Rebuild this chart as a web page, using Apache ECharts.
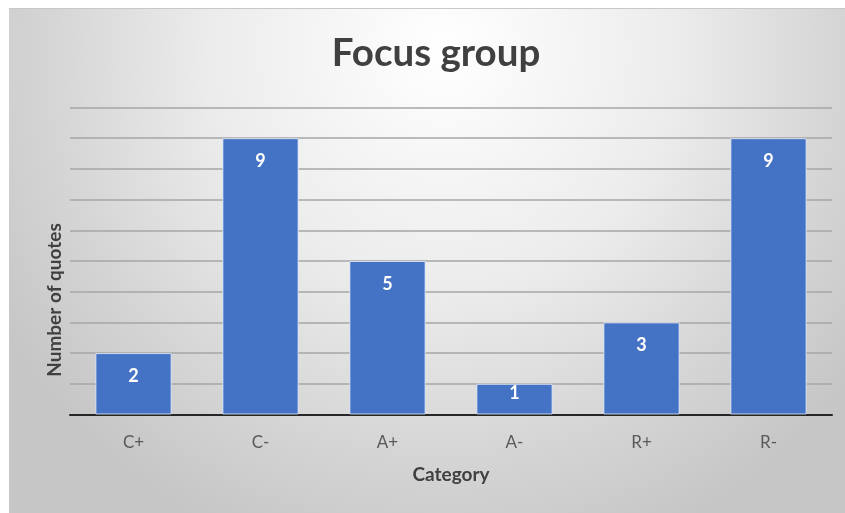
<!DOCTYPE html>
<html>
<head>
<meta charset="utf-8">
<script src="https://cdn.jsdelivr.net/npm/echarts@6/dist/echarts.min.js"></script>
<style>
  html, body { margin: 0; padding: 0; background: #ffffff; }
  #bg {
    position: absolute; left: 9px; top: 8px; width: 836px; height: 505px;
    border-top: 1px solid #c8c8c8;
    background: radial-gradient(ellipse 62% 105% at 52% 8%, #ffffff 0%, #ececec 45%, #d6d6d6 75%, #c6c6c6 100%);
  }
  #chart { position: absolute; left: 0; top: 0; width: 845px; height: 513px; }
</style>
</head>
<body>
<div id="bg"></div>
<div id="chart"></div>
<script>
const titleText = 'Focus group';
const xAxisTitle = 'Category';
const yAxisTitle = 'Number of quotes';
const categories = ['C+', 'C-', 'A+', 'A-', 'R+', 'R-'];
const quotes = [2, 9, 5, 1, 3, 9];

// short bars get their label pushed up to the bar's top edge
const barData = quotes.map(v => v < 2 ? { value: v, label: { distance: 0 } } : v);

const chart = echarts.init(document.getElementById('chart'), null, { renderer: 'canvas' });
chart.setOption({
  backgroundColor: 'transparent',
  animation: false,
  grid: { left: 70, right: 13, top: 107.5, bottom: 98.5, containLabel: false },
  xAxis: {
    type: 'category',
    data: categories,
    axisLine: { show: true, lineStyle: { color: '#262626', width: 2 } },
    axisTick: { show: false },
    axisLabel: { color: '#595959', fontFamily: 'Lato', fontSize: 17, margin: 20 },
    name: xAxisTitle,
    nameLocation: 'middle',
    nameGap: 51,
    nameTextStyle: { color: '#404040', fontFamily: 'Lato', fontWeight: 'bold', fontSize: 19 }
  },
  yAxis: {
    type: 'value',
    min: 0, max: 10, interval: 1,
    axisLine: { show: false },
    axisTick: { show: false },
    axisLabel: { show: false },
    splitLine: { show: true, lineStyle: { color: '#a6a6a6', width: 1.5 } }
  },
  series: [{
    type: 'bar',
    data: barData,
    barWidth: '60%',
    itemStyle: { color: '#4472C4', borderColor: 'rgba(230,238,250,0.8)', borderWidth: 1 },
    label: {
      show: true, position: 'insideTop', distance: 14,
      color: '#ffffff', fontFamily: 'Lato', fontWeight: 'bold', fontSize: 18
    }
  }],
  graphic: [
    {
      type: 'text', x: 436, y: 54,
      style: { text: titleText, textAlign: 'center', textVerticalAlign: 'middle',
               font: 'bold 38.5px Lato', fill: '#404040' }
    },
    {
      type: 'text', x: 55, y: 300, rotation: Math.PI / 2,
      style: { text: yAxisTitle, textAlign: 'center', textVerticalAlign: 'middle',
               font: 'bold 19px Lato', fill: '#404040' }
    }
  ]
});
</script>
</body>
</html>
